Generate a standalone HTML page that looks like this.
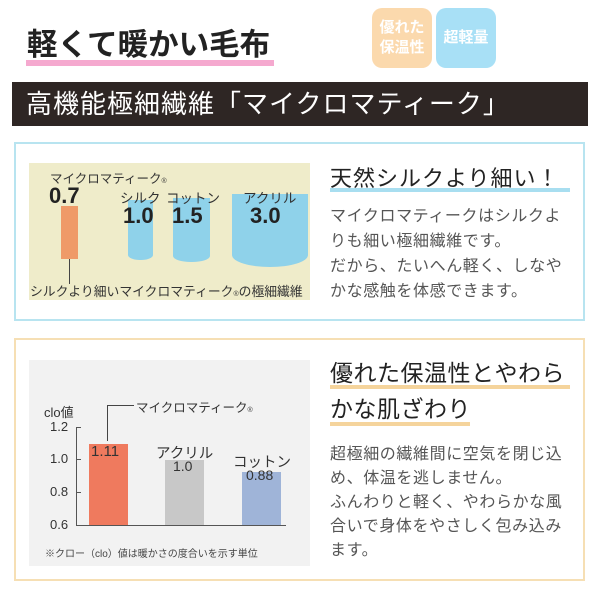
<!DOCTYPE html>
<html><head><meta charset="utf-8"><style>
*{margin:0;padding:0;box-sizing:border-box}
body{width:600px;height:600px;background:#fff;position:relative;overflow:hidden;font-family:"Liberation Sans","Noto Sans CJK JP",sans-serif}
.a{position:absolute;white-space:nowrap}
</style></head><body>
<div class="a" style="left:26px;top:60px;width:248px;height:6px;background:#f5a9cf"></div>
<div class="a" style="left:27px;top:20px;font-size:30.5px;font-weight:bold;color:#222">軽くて暖かい毛布</div>
<div class="a" style="left:372px;top:8px;width:60px;height:60px;border-radius:10px;background:#fbd9ad;color:#fff;font-size:15px;font-weight:bold;text-align:center;line-height:20px;padding-top:10px">優れた<br>保温性</div>
<div class="a" style="left:436px;top:8px;width:60px;height:60px;border-radius:10px;background:#a8e0f6;color:#fff;font-size:15px;font-weight:bold;text-align:center;line-height:60px">超軽量</div>
<div class="a" style="left:12px;top:82px;width:576px;height:44px;background:#2e2624"></div>
<div class="a" style="left:26px;top:86px;font-size:26px;color:#fff;line-height:36px;letter-spacing:1px">高機能極細繊維「マイクロマティーク」</div>

<div class="a" style="left:14px;top:142px;width:571px;height:179px;border:2px solid #b8e4f0"></div>
<div class="a" style="left:29px;top:163px;width:281px;height:137px;background:#efecca"></div>
<div class="a" style="left:50px;top:168px;font-size:12.5px;color:#333">マイクロマティーク<span style="font-size:7px">®</span></div>
<div class="a" style="left:49px;top:183px;font-size:22px;font-weight:bold;color:#222">0.7</div>
<div class="a" style="left:61px;top:206px;width:17px;height:53px;background:#ef9a68"></div>
<div class="a" style="left:69px;top:259px;width:1px;height:25px;background:#444"></div>
<div class="a" style="left:128px;top:200px;width:25px;height:60px;background:#8fd2ea;border-radius:0 0 12px 12px/0 0 5px 5px"></div>
<div class="a" style="left:173px;top:198px;width:37px;height:64px;background:#8fd2ea;border-radius:0 0 18px 18px/0 0 6px 6px"></div>
<div class="a" style="left:232px;top:194px;width:76px;height:73px;background:#8fd2ea;border-radius:0 0 38px 38px/0 0 12px 12px"></div>
<div class="a" style="left:120px;top:187px;font-size:13.5px;color:#333">シルク</div>
<div class="a" style="left:166px;top:187px;font-size:13.5px;color:#333">コットン</div>
<div class="a" style="left:243px;top:187px;font-size:13.5px;color:#333">アクリル</div>
<div class="a" style="left:123px;top:203px;font-size:22px;font-weight:bold;color:#222">1.0</div>
<div class="a" style="left:172px;top:203px;font-size:22px;font-weight:bold;color:#222">1.5</div>
<div class="a" style="left:250px;top:203px;font-size:22px;font-weight:bold;color:#222">3.0</div>
<div class="a" style="left:30px;top:281px;font-size:12.8px;color:#333">シルクより細いマイクロマティーク<span style="font-size:7px">®</span>の極細繊維</div>
<div class="a" style="left:330px;top:188px;width:240px;height:4px;background:#a8def0"></div>
<div class="a" style="left:330px;top:161px;font-size:22px;color:#222;letter-spacing:1px">天然シルクより細い！</div>
<div class="a" style="left:330px;top:204px;font-size:16px;line-height:25px;color:#555;letter-spacing:0.6px">マイクロマティークはシルクよ<br>りも細い極細繊維です。<br>だから、たいへん軽く、しなや<br>かな感触を体感できます。</div>

<div class="a" style="left:14px;top:338px;width:571px;height:243px;border:2px solid #f6dfb4"></div>
<div class="a" style="left:29px;top:360px;width:281px;height:206px;background:#f2f2f2"></div>
<div class="a" style="left:44px;top:402px;font-size:13px;color:#333">clo値</div>
<div class="a" style="left:76px;top:427px;width:1px;height:99px;background:#555"></div>
<div class="a" style="left:76px;top:525px;width:210px;height:1px;background:#555"></div>
<div class="a" style="left:50px;top:419px;font-size:13px;color:#333;line-height:16px">1.2</div>
<div class="a" style="left:50px;top:451px;font-size:13px;color:#333;line-height:16px">1.0</div>
<div class="a" style="left:50px;top:484px;font-size:13px;color:#333;line-height:16px">0.8</div>
<div class="a" style="left:50px;top:517px;font-size:13px;color:#333;line-height:16px">0.6</div>
<div class="a" style="left:76px;top:427px;width:5px;height:1px;background:#555"></div>
<div class="a" style="left:76px;top:459px;width:5px;height:1px;background:#555"></div>
<div class="a" style="left:76px;top:492px;width:5px;height:1px;background:#555"></div>
<div class="a" style="left:89px;top:444px;width:39px;height:81px;background:#ef7a5e"></div>
<div class="a" style="left:165px;top:460px;width:39px;height:65px;background:#c8c8c8"></div>
<div class="a" style="left:242px;top:472px;width:39px;height:53px;background:#9fb4d8"></div>
<div class="a" style="left:107px;top:405px;width:1px;height:36px;background:#444"></div>
<div class="a" style="left:107px;top:405px;width:27px;height:1px;background:#444"></div>
<div class="a" style="left:136px;top:397px;font-size:12.5px;color:#333">マイクロマティーク<span style="font-size:7px">®</span></div>
<div class="a" style="left:91px;top:443px;font-size:15px;color:#333">1.11</div>
<div class="a" style="left:156px;top:442px;font-size:14.5px;color:#333">アクリル</div>
<div class="a" style="left:173px;top:458px;font-size:14px;color:#333">1.0</div>
<div class="a" style="left:233px;top:451px;font-size:14.5px;color:#333">コットン</div>
<div class="a" style="left:246px;top:467px;font-size:14px;color:#333">0.88</div>
<div class="a" style="left:45px;top:545px;font-size:10px;color:#444">※クロー（clo）値は暖かさの度合いを示す単位</div>
<div class="a" style="left:330px;top:385px;width:240px;height:4px;background:#f5d49c"></div>
<div class="a" style="left:330px;top:422px;width:140px;height:4px;background:#f5d49c"></div>
<div class="a" style="left:330px;top:355px;font-size:23px;color:#222;line-height:36px;letter-spacing:0.5px">優れた保温性とやわら<br>かな肌ざわり</div>
<div class="a" style="left:330px;top:443px;font-size:16px;line-height:24px;color:#555;letter-spacing:0.6px">超極細の繊維間に空気を閉じ込<br>め、体温を逃しません。<br>ふんわりと軽く、やわらかな風<br>合いで身体をやさしく包み込み<br>ます。</div>
</body></html>
